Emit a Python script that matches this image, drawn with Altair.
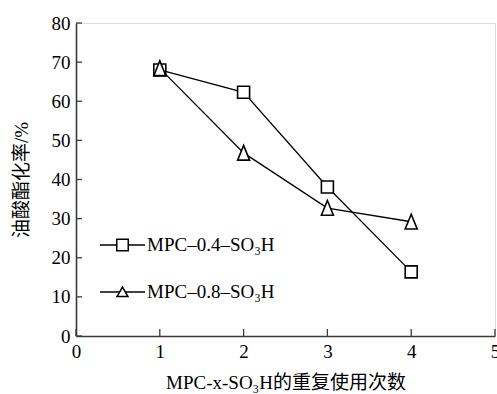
import altair as alt
import pandas as pd

# ---- data ----
cycles = [1, 2, 3, 4]
rate_04 = [68.0, 62.3, 38.1, 16.4]
rate_08 = [68.4, 46.8, 32.7, 29.2]
series_names = ["MPC–0.4–SO₃H", "MPC–0.8–SO₃H"]
x_ticks = [0, 1, 2, 3, 4, 5]
y_ticks = [0, 10, 20, 30, 40, 50, 60, 70, 80]

df = pd.DataFrame({
    "cycle": cycles + cycles,
    "rate": rate_04 + rate_08,
    "series": [series_names[0]] * len(cycles) + [series_names[1]] * len(cycles),
})
xt = pd.DataFrame({"cycle": x_ticks})
yt = pd.DataFrame({"rate": y_ticks})
leg_df = pd.DataFrame({"series": series_names})

FONT = "Liberation Serif, Times New Roman, Noto Sans CJK SC, serif"
AX = "#3a3a3a"
W, H = 419, 313

tri_pt = "M0,-1.25L1,1.2H-1Z"
tri_leg = "M0,-0.85L0.95,0.8H-0.95Z"

xscale = alt.Scale(domain=[0, 5], nice=False)
yscale = alt.Scale(domain=[0, 80], nice=False)

xaxis = alt.Axis(values=x_ticks, format="d", tickSize=0, grid=False, labelFont=FONT,
                 labelFontSize=19, labelColor="black", labelPadding=6, labelOverlap=False,
                 domainColor=AX, domainWidth=1.6,
                 title="MPC-x-SO₃H的重复使用次数", titleFont=FONT, titleFontSize=19,
                 titleFontWeight="normal", titleColor="black", titlePadding=12, labelFlush=False)
yaxis = alt.Axis(values=y_ticks, format="d", tickSize=0, grid=False, labelFont=FONT,
                 labelFontSize=19, labelColor="black", labelPadding=6, labelOverlap=False,
                 domainColor=AX, domainWidth=1.6,
                 title="油酸酯化率/%", titleFont=FONT, titleFontSize=19,
                 titleFontWeight="normal", titleColor="black", titlePadding=20)

X = alt.X("cycle:Q", scale=xscale, axis=xaxis)
Y = alt.Y("rate:Q", scale=yscale, axis=yaxis)

base = alt.Chart(df)

lines = base.mark_line(color="black", strokeWidth=1.3).encode(
    x=X, y=Y, detail="series:N",
)

points = base.mark_point(filled=True, fill="white", stroke="black", strokeWidth=1.6,
                         size=144, opacity=1).encode(
    x=X, y=Y,
    shape=alt.Shape("series:N",
                    scale=alt.Scale(domain=series_names, range=["square", tri_pt]),
                    legend=None),
)

xtick_rules = alt.Chart(xt).mark_rule(color=AX, strokeWidth=1.3).encode(
    x=X, y=alt.value(H), y2=alt.value(H - 7),
)
ytick_rules = alt.Chart(yt).mark_rule(color=AX, strokeWidth=1.3).encode(
    y=Y, x=alt.value(0), x2=alt.value(6),
)

main = alt.layer(xtick_rules, ytick_rules, lines, points)

# ---- in-plot legend (line through marker, then label) ----
LY = alt.Y("series:N", axis=None,
           scale=alt.Scale(type="point", domain=series_names, range=[222, 269], padding=0))

leg_line = alt.Chart(leg_df).mark_rule(color="black", strokeWidth=1.3).encode(
    y=LY, x=alt.value(24), x2=alt.value(69),
)
leg_mark = alt.Chart(leg_df).mark_point(filled=True, fill="white", stroke="black",
                                        strokeWidth=1.5, size=132, opacity=1).encode(
    y=LY, x=alt.value(46.5),
    shape=alt.Shape("series:N",
                    scale=alt.Scale(domain=series_names, range=["square", tri_leg]),
                    legend=None),
)
leg_text = alt.Chart(leg_df).mark_text(align="left", baseline="middle", font=FONT,
                                       fontSize=19, color="black").encode(
    y=LY, x=alt.value(71), text="series:N",
)
legend = alt.layer(leg_line, leg_mark, leg_text)

chart = alt.layer(main, legend).resolve_scale(
    y="independent", shape="independent"
).properties(
    width=W, height=H,
    padding={"left": 76, "top": 23, "right": 2, "bottom": 58},
    autosize=alt.AutoSizeParams(type="none"),
).configure_view(stroke=None).configure(background="white")

chart.save("out.html", embed_options={"renderer": "svg", "actions": False})
